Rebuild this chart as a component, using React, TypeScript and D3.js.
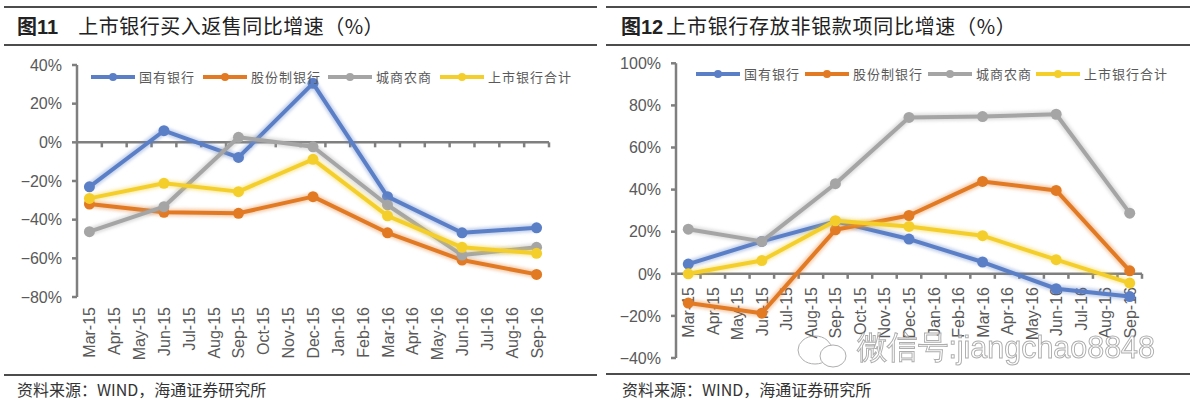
import React from "react";
import * as d3 from "d3";

const months = ["Mar-15","Apr-15","May-15","Jun-15","Jul-15","Aug-15","Sep-15","Oct-15","Nov-15","Dec-15","Jan-16","Feb-16","Mar-16","Apr-16","May-16","Jun-16","Jul-16","Aug-16","Sep-16"];
const seriesNames = ["国有银行", "股份制银行", "城商农商", "上市银行合计"];
const seriesColors = ["#5B7FC7", "#E27A24", "#A5A5A5", "#F4CF2B"];

const n = null;
// 图11 买入返售同比增速
const stateBanks11 = [-23, n, n, 6, n, n, -7.8, n, n, 30.5, n, n, -28.1, n, n, -46.8, n, n, -44.2];
const jointBanks11 = [-31.9, n, n, -36.2, n, n, -36.7, n, n, -28.1, n, n, -46.8, n, n, -60.9, n, n, -68.3];
const cityRural11 = [-46.2, n, n, -33.3, n, n, 2.6, n, n, -2.3, n, n, -32.4, n, n, -58.3, n, n, -54.3];
const listedTotal11 = [-29, n, n, -21.2, n, n, -25.5, n, n, -8.8, n, n, -38, n, n, -54.3, n, n, -57.4];
const yTicks11 = [40, 20, 0, -20, -40, -60, -80];

// 图12 存放非银款项同比增速
const stateBanks12 = [4.6, n, n, 15.4, n, n, 24.9, n, n, 16.5, n, n, 5.6, n, n, -7.1, n, n, -10.8];
const jointBanks12 = [-13.9, n, n, -18.7, n, n, 20.9, n, n, 27.7, n, n, 43.9, n, n, 39.6, n, n, 1.4];
const cityRural12 = [21.2, n, n, 15.4, n, n, 42.8, n, n, 74.3, n, n, 74.7, n, n, 75.8, n, n, 28.8];
const listedTotal12 = [0, n, n, 6.3, n, n, 25.2, n, n, 22.5, n, n, 18.1, n, n, 6.7, n, n, -4.4];
const yTicks12 = [100, 80, 60, 40, 20, 0, -20, -40];

const FONT_LATIN = "'Liberation Sans', Arial, sans-serif";
const FONT_CJK = "'Noto Sans CJK SC', 'Liberation Sans', sans-serif";
const AXIS = "#7F7F7F";
const LABEL = "#595959";

type ChartProps = {
  series: (number | null)[][];
  yDomain: [number, number];
  yRange: [number, number];
  xRange: [number, number];
  yTicks: number[];
  labelTop: number;
  legendX: number[];
  legendY: number;
};

function Chart({ series, yDomain, yRange, xRange, yTicks, labelTop, legendX, legendY }: ChartProps) {
  const x = d3.scaleBand<string>().domain(months).range(xRange).padding(0);
  const y = d3.scaleLinear().domain(yDomain).range(yRange);
  const cx = (m: string) => (x(m) as number) + x.bandwidth() / 2;
  const line = d3.line<{ m: string; v: number }>().x((d) => cx(d.m)).y((d) => y(d.v));
  const y0 = y(0);
  const boundaries = d3.range(months.length + 1).map((i) => xRange[0] + i * x.bandwidth());
  return (
    <g>
      {/* y axis */}
      <line x1={xRange[0]} x2={xRange[0]} y1={y(yDomain[1])} y2={y(yDomain[0])} stroke={AXIS} strokeWidth={2.5} />
      {yTicks.map((t) => (
        <g key={t}>
          <line x1={xRange[0] - 5} x2={xRange[0]} y1={y(t)} y2={y(t)} stroke={AXIS} strokeWidth={2.5} />
          <text x={xRange[0] - 15} y={y(t)} dy="0.36em" textAnchor="end" fontFamily={FONT_LATIN} fontSize={16} fill={LABEL}>
            {d3.format(".0%")(t / 100)}
          </text>
        </g>
      ))}
      {/* x axis at zero */}
      <line x1={xRange[0]} x2={xRange[1]} y1={y0} y2={y0} stroke={AXIS} strokeWidth={2.5} />
      {boundaries.slice(1).map((bx, i) => (
        <line key={i} x1={bx} x2={bx} y1={y0} y2={y0 + 5} stroke={AXIS} strokeWidth={2.5} />
      ))}
      {months.map((m) => (
        <text key={m} transform={`translate(${cx(m) + 6},${labelTop}) rotate(-90)`} textAnchor="end" fontFamily={FONT_LATIN} fontSize={16} fill={LABEL}>
          {m}
        </text>
      ))}
      {/* series */}
      {series.map((s, si) => {
        const pts = s.map((v, i) => ({ m: months[i], v })).filter((d) => d.v !== null) as { m: string; v: number }[];
        return (
          <g key={si}>
            <path d={line(pts) || ""} fill="none" stroke={seriesColors[si]} strokeOpacity={0.35} strokeWidth={8} filter="url(#soft)" strokeLinejoin="round" />
            <path d={line(pts) || ""} fill="none" stroke={seriesColors[si]} strokeWidth={4} strokeLinejoin="round" />
            {pts.map((d, i) => (
              <circle key={i} cx={cx(d.m)} cy={y(d.v)} r={5.5} fill={seriesColors[si]} />
            ))}
          </g>
        );
      })}
      {/* legend */}
      {seriesNames.map((name, i) => (
        <g key={name}>
          <line x1={legendX[i]} x2={legendX[i] + 44} y1={legendY} y2={legendY} stroke={seriesColors[i]} strokeWidth={4} />
          <circle cx={legendX[i] + 22} cy={legendY} r={4} fill={seriesColors[i]} />
          <text x={legendX[i] + 48} y={legendY} dy="0.36em" fontFamily={FONT_CJK} fontSize={13} letterSpacing={1} fill={LABEL}>
            {name}
          </text>
        </g>
      ))}
    </g>
  );
}

export default function App() {
  return (
    <svg width={1193} height={404} style={{ position: "absolute", left: 0, top: 0, background: "#fff" }}>
      <defs>
        <filter id="soft" x="-10%" y="-10%" width="120%" height="120%">
          <feGaussianBlur stdDeviation="1.5" />
        </filter>
      </defs>
      <rect width={1193} height={404} fill="#fff" />
      {/* header rules */}
      <line x1={4} x2={597} y1={7} y2={7} stroke="#111" strokeWidth={1.5} />
      <line x1={4} x2={597} y1={45} y2={45} stroke="#111" strokeWidth={1.5} />
      <line x1={606} x2={1190} y1={7} y2={7} stroke="#111" strokeWidth={1.5} />
      <line x1={606} x2={1190} y1={45} y2={45} stroke="#111" strokeWidth={1.5} />
      <text x={17} y={34} fontFamily={FONT_CJK} fontSize={20} fill="#222">
        <tspan fontWeight="bold">图</tspan>
        <tspan fontWeight="bold" fontFamily={FONT_LATIN}>11</tspan>
        <tspan dx={20} letterSpacing={0.5}>上市银行买入返售同比增速（%）</tspan>
      </text>
      <text x={621} y={34} fontFamily={FONT_CJK} fontSize={20} fill="#222">
        <tspan fontWeight="bold">图</tspan>
        <tspan fontWeight="bold" fontFamily={FONT_LATIN}>12</tspan>
        <tspan dx={3} letterSpacing={0.7}>上市银行存放非银款项同比增速（%）</tspan>
      </text>

      <Chart
        series={[stateBanks11, jointBanks11, cityRural11, listedTotal11]}
        yDomain={[-80, 40]}
        yRange={[297, 65]}
        xRange={[77, 549]}
        yTicks={yTicks11}
        labelTop={307}
        legendX={[91, 203, 328, 440]}
        legendY={77}
      />
      <Chart
        series={[stateBanks12, jointBanks12, cityRural12, listedTotal12]}
        yDomain={[-40, 100]}
        yRange={[358, 63.3]}
        xRange={[676, 1142]}
        yTicks={yTicks12}
        labelTop={287}
        legendX={[696, 805, 928, 1036]}
        legendY={74}
      />

      {/* watermark */}
      <g opacity={0.8}>
        <ellipse cx={815} cy={350} rx={17} ry={14} fill="none" stroke="#999" strokeWidth={1} />
        <ellipse cx={833} cy={356} rx={13} ry={11} fill="#fff" stroke="#999" strokeWidth={1} />
        <text x={857} y={358} fontFamily={FONT_LATIN} fontSize={32} textLength={298} lengthAdjust="spacingAndGlyphs" fill="#fff" fillOpacity={0.7} stroke="#999" strokeWidth={1}>
          微信号:jiangchao8848
        </text>
      </g>

      {/* footer rules */}
      <line x1={4} x2={597} y1={375} y2={375} stroke="#111" strokeWidth={1.5} />
      <line x1={606} x2={1190} y1={374} y2={374} stroke="#111" strokeWidth={1.5} />
      <text x={17} y={396} fontFamily={FONT_CJK} fontSize={16} fill="#333">
        资料来源：WIND，海通证券研究所
      </text>
      <text x={622} y={396} fontFamily={FONT_CJK} fontSize={16} fill="#333">
        资料来源：WIND，海通证券研究所
      </text>
    </svg>
  );
}
